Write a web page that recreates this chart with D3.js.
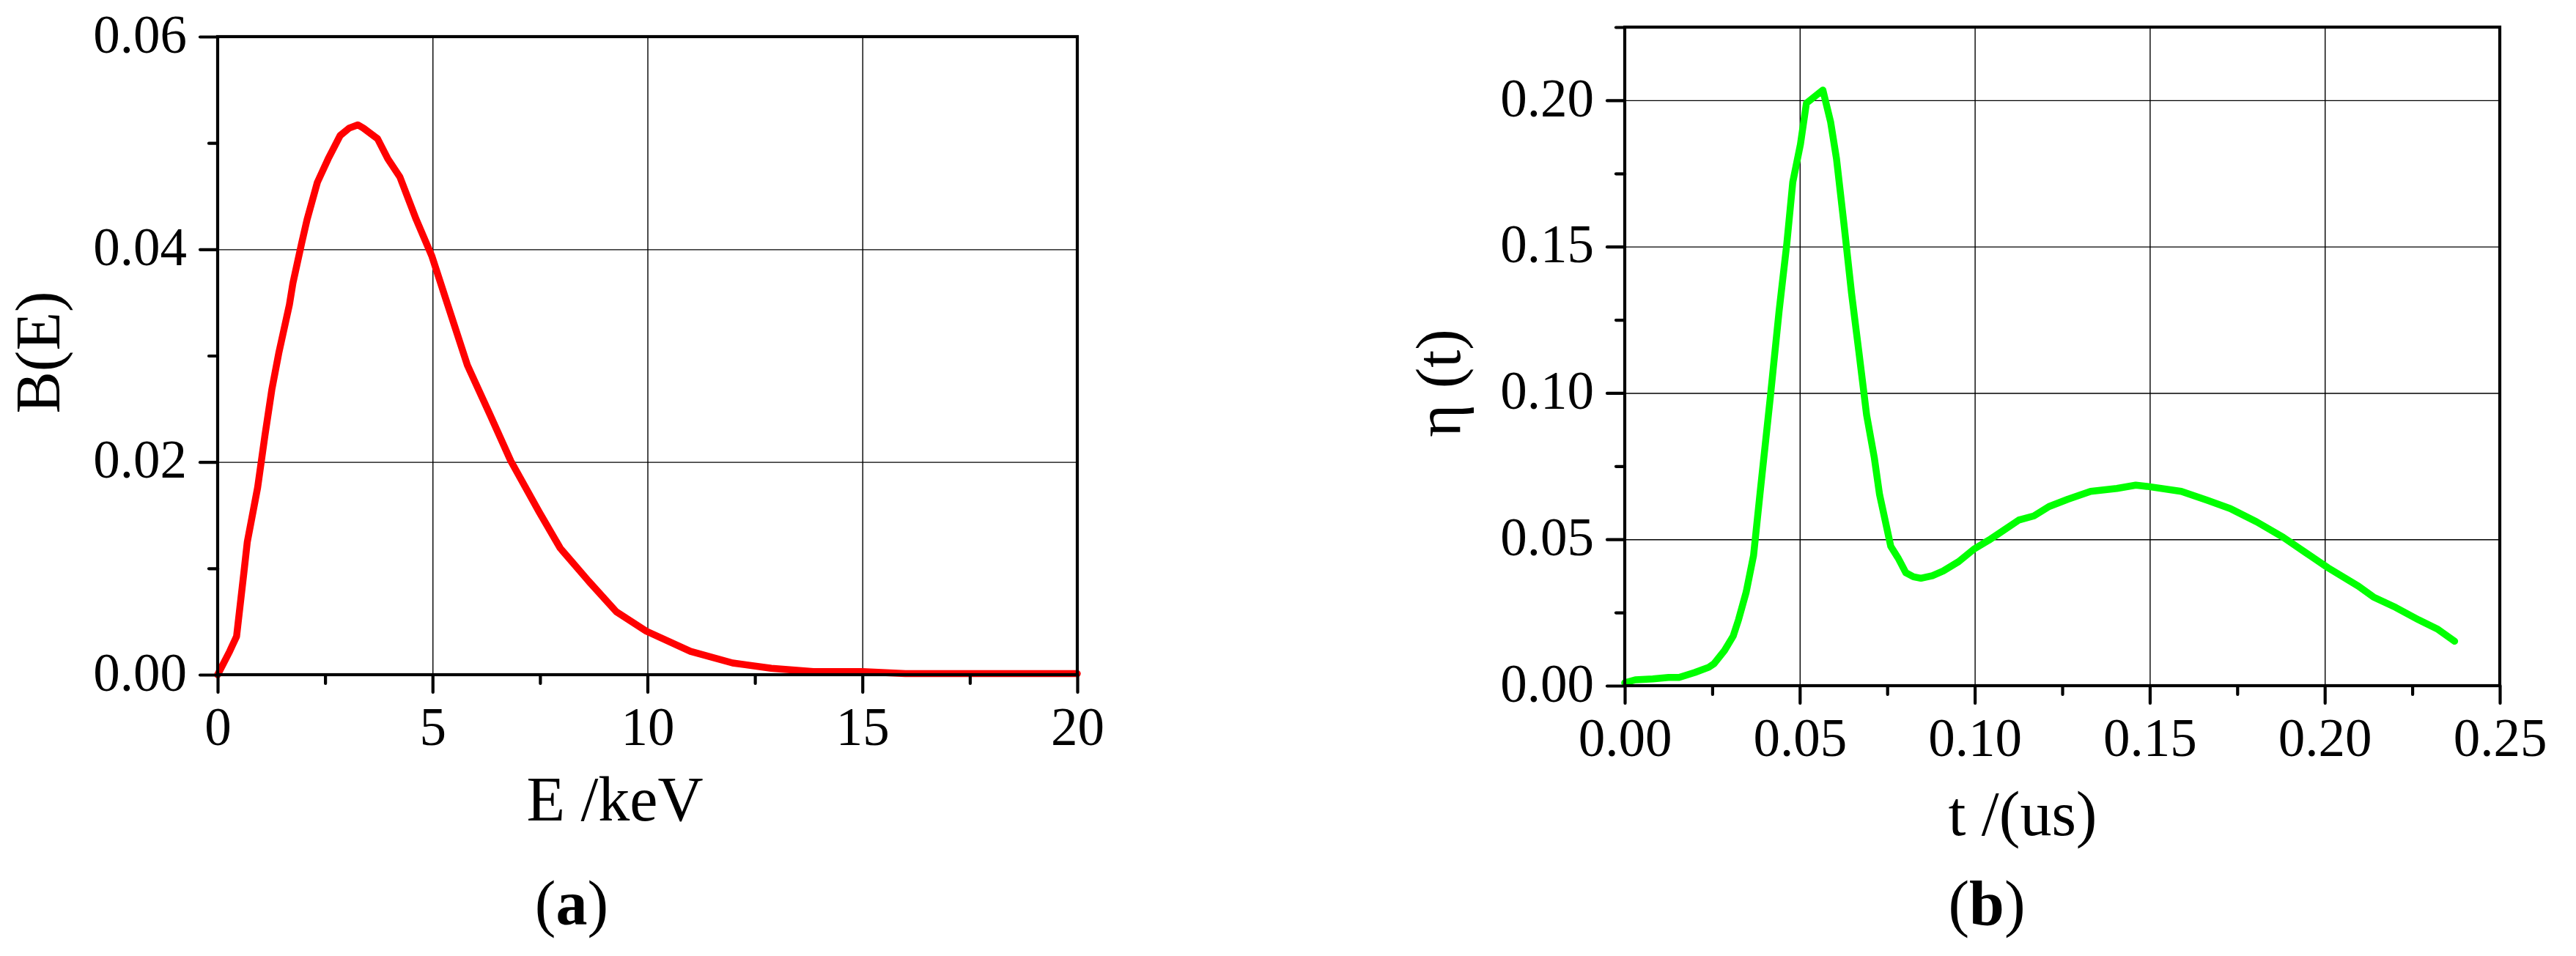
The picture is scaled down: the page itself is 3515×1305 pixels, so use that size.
<!DOCTYPE html>
<html>
<head>
<meta charset="utf-8">
<script src="https://cdn.jsdelivr.net/npm/d3@7"></script>
<style>
  html, body { margin: 0; padding: 0; background: #fff; }
  svg { display: block; }
  text { font-family: "Liberation Serif", "Times New Roman", serif; fill: #000; }
</style>
</head>
<body>
<svg id="chart" width="3515" height="1305"></svg>
<script>
// ---------- Data ----------
// Panel (a): B(E) vs E /keV
const energyKeV = [0, 0.28, 0.44, 0.61, 0.69, 0.93, 1.1, 1.26, 1.42, 1.67, 1.75, 1.95, 2.08, 2.32, 2.57, 2.85, 3.06, 3.26, 3.39, 3.72, 3.96, 4.24, 4.62, 4.98, 5.35, 5.81, 6.33, 6.82, 7.48, 7.97, 8.63, 9.28, 9.97, 11.0, 11.98, 12.88, 13.86, 15.0, 16.0, 18.0, 20.0];
const bValues   = [0, 0.0022, 0.0036, 0.0096, 0.0125, 0.0176, 0.0225, 0.0268, 0.0302, 0.0348, 0.0368, 0.0405, 0.0428, 0.0463, 0.0485, 0.0507, 0.0514, 0.0517, 0.0514, 0.0504, 0.0485, 0.0468, 0.0428, 0.0394, 0.0348, 0.0291, 0.0245, 0.0201, 0.0153, 0.0119, 0.0088, 0.0059, 0.0041, 0.0022, 0.0011, 0.0006, 0.0003, 0.0003, 0.0001, 0.0001, 0.0001];

// Panel (b): eta(t) vs t /(us)
const timeUs = [0, 0.003, 0.008, 0.0125, 0.0155, 0.020, 0.024, 0.0255, 0.0285, 0.031, 0.0325, 0.0347, 0.0368, 0.0388, 0.0416, 0.0441, 0.0463, 0.048, 0.0502, 0.0519, 0.0545, 0.0566, 0.0588, 0.0605, 0.0627, 0.0648, 0.067, 0.0691, 0.0713, 0.0728, 0.076, 0.0782, 0.0803, 0.0825, 0.0846, 0.0879, 0.091, 0.0954, 0.0997, 0.104, 0.1079, 0.1126, 0.1169, 0.1212, 0.1266, 0.1331, 0.1406, 0.146, 0.1492, 0.159, 0.1665, 0.173, 0.1805, 0.1881, 0.1945, 0.2009, 0.2096, 0.2139, 0.2203, 0.2268, 0.2321, 0.2371];
const etaValues = [0.001, 0.002, 0.0023, 0.0028, 0.0028, 0.0045, 0.0063, 0.0075, 0.012, 0.017, 0.0225, 0.032, 0.0445, 0.0674, 0.0987, 0.128, 0.151, 0.172, 0.185, 0.199, 0.2015, 0.2035, 0.1927, 0.180, 0.157, 0.134, 0.113, 0.0925, 0.0779, 0.0653, 0.0476, 0.0434, 0.0386, 0.0372, 0.0367, 0.0376, 0.0392, 0.0424, 0.0466, 0.0497, 0.0528, 0.0566, 0.058, 0.0612, 0.0637, 0.0664, 0.0674, 0.0685, 0.0681, 0.0664, 0.0633, 0.0605, 0.056, 0.0507, 0.0455, 0.0403, 0.034, 0.0303, 0.0267, 0.0225, 0.0194, 0.0152];

// Tick values
const xTicksA = [0, 5, 10, 15, 20];
const xMinorA = [2.5, 7.5, 12.5, 17.5];
const yTicksA = [0, 0.02, 0.04, 0.06];
const yMinorA = [0.01, 0.03, 0.05];
const xTicksB = [0, 0.05, 0.10, 0.15, 0.20, 0.25];
const xMinorB = [0.025, 0.075, 0.125, 0.175, 0.225];
const yTicksB = [0, 0.05, 0.10, 0.15, 0.20];
const yMinorB = [0.025, 0.075, 0.125, 0.175, 0.225];

// ---------- Drawing ----------
const svg = d3.select("#chart");
const TICK_FONT = 73, TITLE_FONT = 86;
const MAJOR = 24, MINOR = 12;

function panel(cfg) {
  const x = d3.scaleLinear().domain(cfg.xDomain).range(cfg.xRange);
  const y = d3.scaleLinear().domain(cfg.yDomain).range(cfg.yRange);
  const [x0, x1] = cfg.xRange, [yb, yt] = cfg.yRange;
  const g = svg.append("g");

  // grid
  g.append("g").attr("transform", `translate(0,${yb})`)
    .call(d3.axisBottom(x).tickValues(cfg.xTicks).tickSize(-(yb - yt)).tickFormat(""))
    .call(s => { s.select(".domain").remove(); s.selectAll("line").attr("stroke", "#000").attr("stroke-width", 1.4); });
  g.append("g").attr("transform", `translate(${x0},0)`)
    .call(d3.axisLeft(y).tickValues(cfg.yTicks).tickSize(-(x1 - x0)).tickFormat(""))
    .call(s => { s.select(".domain").remove(); s.selectAll("line").attr("stroke", "#000").attr("stroke-width", 1.4); });

  // data line
  const pts = cfg.xs.map((v, i) => [v, cfg.ys[i]]);
  g.append("path").datum(pts)
    .attr("d", d3.line().x(d => x(d[0])).y(d => y(d[1])).curve(d3.curveLinear))
    .attr("fill", "none").attr("stroke", cfg.color).attr("stroke-width", 9.5)
    .attr("stroke-linejoin", "round").attr("stroke-linecap", "round");

  // frame
  g.append("rect").attr("x", x0).attr("y", yt).attr("width", x1 - x0).attr("height", yb - yt)
    .attr("fill", "none").attr("stroke", "#000").attr("stroke-width", 4.2);

  const styleTicks = s => {
    s.select(".domain").remove();
    s.selectAll("line").attr("stroke", "#000").attr("stroke-width", 4.2).attr("stroke-linecap", "round");
    s.selectAll("text").style("font-size", TICK_FONT + "px").attr("fill", "#000");
  };

  // x axes (major + minor)
  g.append("g").attr("transform", `translate(0,${yb})`)
    .call(d3.axisBottom(x).tickValues(cfg.xTicks).tickSize(MAJOR).tickPadding(20).tickFormat(cfg.xFmt))
    .call(styleTicks);
  g.append("g").attr("transform", `translate(0,${yb})`)
    .call(d3.axisBottom(x).tickValues(cfg.xMinor).tickSize(MINOR).tickFormat(""))
    .call(styleTicks);
  // y axes (major + minor)
  g.append("g").attr("transform", `translate(${x0},0)`)
    .call(d3.axisLeft(y).tickValues(cfg.yTicks).tickSize(MAJOR).tickPadding(18).tickFormat(cfg.yFmt))
    .call(styleTicks)
    .call(s => s.selectAll("text").attr("dy", "0.29em"));
  g.append("g").attr("transform", `translate(${x0},0)`)
    .call(d3.axisLeft(y).tickValues(cfg.yMinor).tickSize(MINOR).tickFormat(""))
    .call(styleTicks);

  // axis titles
  g.append("text").attr("x", cfg.xTitlePos[0]).attr("y", cfg.xTitlePos[1])
    .attr("text-anchor", "middle").style("font-size", TITLE_FONT + "px").text(cfg.xTitle);
  g.append("text").attr("transform", `translate(${cfg.yTitlePos[0]},${cfg.yTitlePos[1]}) rotate(-90)`)
    .attr("text-anchor", "middle").style("font-size", TITLE_FONT + "px").text(cfg.yTitle);

  // panel label
  const lab = g.append("text").attr("x", cfg.labelPos[0]).attr("y", cfg.labelPos[1])
    .attr("text-anchor", "middle").style("font-size", TITLE_FONT + "px");
  lab.append("tspan").text("(");
  lab.append("tspan").attr("font-weight", "bold").text(cfg.label);
  lab.append("tspan").text(")");
}

panel({
  xDomain: [0, 20], xRange: [297, 1470],
  yDomain: [0, 0.06], yRange: [921, 50],
  xTicks: xTicksA, xMinor: xMinorA, yTicks: yTicksA, yMinor: yMinorA,
  xFmt: d3.format("d"), yFmt: d3.format(".2f"),
  xs: energyKeV, ys: bValues, color: "#ff0000",
  xTitle: "E /keV", xTitlePos: [839, 1120],
  yTitle: "B(E)", yTitlePos: [81, 481],
  label: "a", labelPos: [780, 1262]
});

panel({
  xDomain: [0, 0.25], xRange: [2217, 3411],
  yDomain: [0, 0.225], yRange: [936, 37],
  xTicks: xTicksB, xMinor: xMinorB, yTicks: yTicksB, yMinor: yMinorB,
  xFmt: d3.format(".2f"), yFmt: d3.format(".2f"),
  xs: timeUs, ys: etaValues, color: "#00ff00",
  xTitle: "t /(us)", xTitlePos: [2760, 1140],
  yTitle: "η (t)", yTitlePos: [1992, 523],
  label: "b", labelPos: [2711, 1262]
});
</script>
</body>
</html>
